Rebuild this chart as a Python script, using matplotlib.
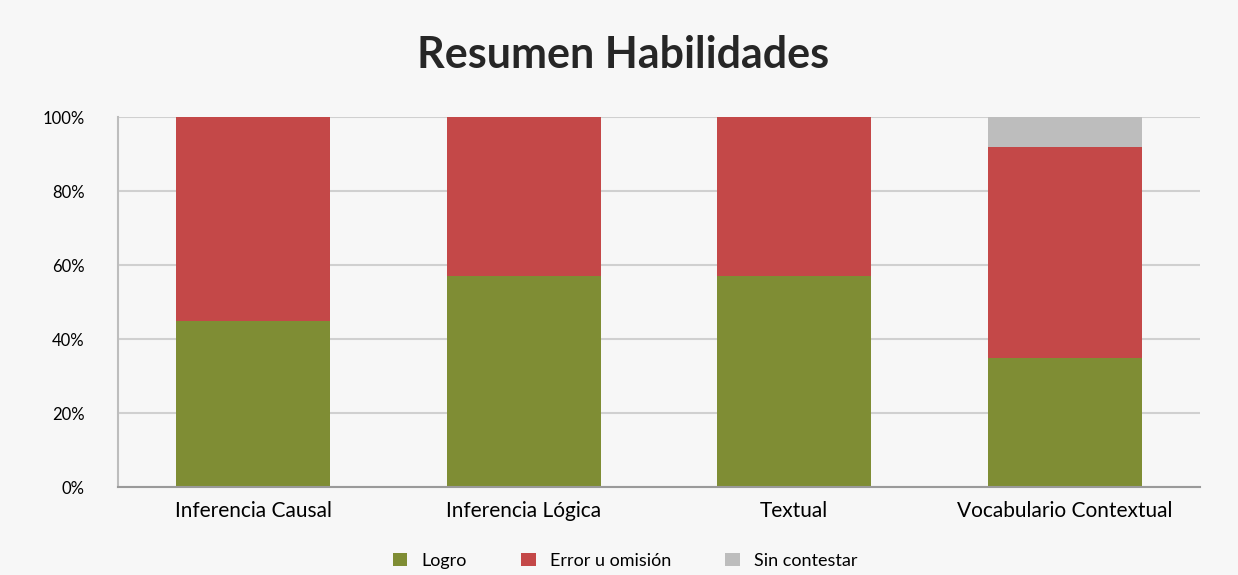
import matplotlib
matplotlib.use("Agg")
import matplotlib.pyplot as plt
from matplotlib.ticker import PercentFormatter

# data (share of students, %)
habilidades = ['Inferencia Causal', 'Inferencia Lógica', 'Textual', 'Vocabulario Contextual']
logro = [45, 57, 57, 35]
error = [55, 43, 43, 57]
sin_contestar = [0, 0, 0, 8]
series = ['Logro', 'Error u omisión', 'Sin contestar']

plt.rcParams['font.family'] = ['Lato', 'DejaVu Sans']

bg = '#f7f7f7'
fig = plt.figure(figsize=(12.38, 5.75), dpi=100, facecolor=bg)
ax = fig.add_axes([0.0953, 0.153, 0.874, 0.6435], facecolor=bg)

x = range(len(habilidades))
w = 0.57
ax.bar(x, logro, w, color='#7f8d34', label=series[0], zorder=2)
bottom2 = logro
ax.bar(x, error, w, bottom=bottom2, color='#c44848', label=series[1], zorder=2)
bottom3 = [a + b for a, b in zip(logro, error)]
ax.bar(x, sin_contestar, w, bottom=bottom3, color='#bdbdbd', label=series[2], zorder=2)

ax.set_xlim(-0.5, 3.5)
ax.set_ylim(0, 100)
ax.set_yticks([0, 20, 40, 60, 80, 100])
ax.yaxis.set_major_formatter(PercentFormatter(decimals=0))
ax.set_xticks(list(x))
ax.set_xticklabels(habilidades, fontsize=15)
ax.tick_params(axis='y', labelsize=12, length=0, pad=24)
ax.tick_params(axis='x', length=0, pad=10)
ax.grid(axis='y', color='#d0d0d0', linewidth=1.5, zorder=0)
for s in ['top', 'right']:
    ax.spines[s].set_visible(False)
ax.spines['left'].set_color('#bdbdbd')
ax.spines['left'].set_linewidth(1.5)
ax.spines['bottom'].set_color('#9a9a9a')
ax.spines['bottom'].set_linewidth(1.5)

fig.text(0.503, 0.905, 'Resumen Habilidades', ha='center', va='center',
         fontsize=31, fontweight='bold', color='#262626')

fig.legend(loc='center', bbox_to_anchor=(0.505, 0.025), ncol=3, frameon=False,
           fontsize=13, handlelength=0.8, handleheight=0.8, columnspacing=3.0)

fig.savefig('out.png', dpi=100, facecolor=bg)
